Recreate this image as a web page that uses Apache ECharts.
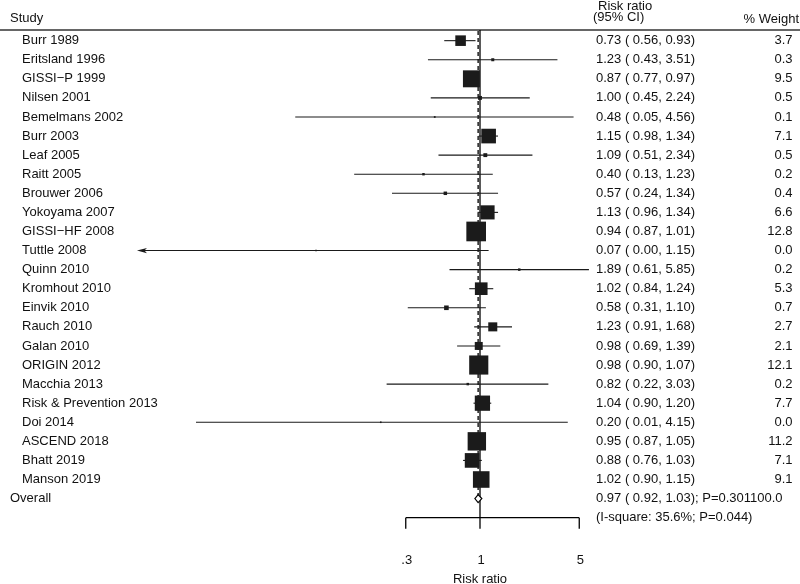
<!DOCTYPE html>
<html><head><meta charset="utf-8">
<script src="https://cdn.jsdelivr.net/npm/echarts@6/dist/echarts.min.js"></script>
<style>html,body{margin:0;padding:0;background:#fff}#c{width:800px;height:584px}</style>
</head><body><div id="c"></div>
<script>
// ---------------- data ----------------
const studies = ["Burr 1989","Eritsland 1996","GISSI\u2212P 1999","Nilsen 2001","Bemelmans 2002","Burr 2003","Leaf 2005","Raitt 2005","Brouwer 2006","Yokoyama 2007","GISSI\u2212HF 2008","Tuttle 2008","Quinn 2010","Kromhout 2010","Einvik 2010","Rauch 2010","Galan 2010","ORIGIN 2012","Macchia 2013","Risk & Prevention 2013","Doi 2014","ASCEND 2018","Bhatt 2019","Manson 2019"];
const rr     = [0.73,1.23,0.87,1.00,0.48,1.15,1.09,0.40,0.57,1.13,0.94,0.07,1.89,1.02,0.58,1.23,0.98,0.98,0.82,1.04,0.20,0.95,0.88,1.02];
const lower  = [0.56,0.43,0.77,0.45,0.05,0.98,0.51,0.13,0.24,0.96,0.87,0.00,0.61,0.84,0.31,0.91,0.69,0.90,0.22,0.90,0.01,0.87,0.76,0.90];
const upper  = [0.93,3.51,0.97,2.24,4.56,1.34,2.34,1.23,1.34,1.34,1.01,1.15,5.85,1.24,1.10,1.68,1.39,1.07,3.03,1.20,4.15,1.05,1.03,1.15];
const weights= [3.7,0.3,9.5,0.5,0.1,7.1,0.5,0.2,0.4,6.6,12.8,0.0,0.2,5.3,0.7,2.7,2.1,12.1,0.2,7.7,0.0,11.2,7.1,9.1];

const overallLabel = "Overall";
const overallRR = 0.97, overallLower = 0.92, overallUpper = 1.03;
const overallP = "0.301";
const overallWeight = 100.0;
const iSquare = 35.6, heterogeneityP = "0.044";

const tickValues = [0.3, 1, 5];
const tickLabels = [".3", "1", "5"];
const axisTitle = "Risk ratio";
const headerStudy = "Study", headerEffect1 = "Risk ratio", headerEffect2 = "(95% CI)", headerWeight = "% Weight";

// ---------------- layout ----------------
const W = 800;
const PX_PER_DECADE = 142, X_ONE = 480;
const ROW0 = 40.66, ROW_H = 19.08, Y_MIN = -2, Y_MAX = 28;
const X_CLIP = 0.00384;          // left display limit where CIs become arrows
const SQ_K = 5.5, SQ_MIN = 1.6;
const FONT = '13px "Liberation Sans", Arial, sans-serif';
const TXT = '#111', LINE = '#1a1a1a', SQ = '#1b1b1b';
const nStudies = studies.length;
const overallRow = nStudies;
const axisRow = nStudies + 1;

const f2 = v => v.toFixed(2);
const ciText = (e, l, u) => f2(e) + ' ( ' + f2(l) + ', ' + f2(u) + ')';

function txt(x, y, text, align) {
  return {type: 'text', silent: true, style: {x, y, text, fill: TXT, font: FONT, textAlign: align || 'left', textVerticalAlign: 'middle', verticalAlign: 'middle'}};
}

const chart = echarts.init(document.getElementById('c'), null, {renderer: 'canvas'});

const option = {
  animation: false,
  backgroundColor: '#fff',
  grid: {left: 0, width: W, top: ROW0 + Y_MIN * ROW_H, height: (Y_MAX - Y_MIN) * ROW_H, containLabel: false},
  xAxis: {type: 'log', logBase: 10, min: Math.pow(10, -X_ONE / PX_PER_DECADE), max: Math.pow(10, (W - X_ONE) / PX_PER_DECADE), show: false},
  yAxis: {type: 'value', inverse: true, min: Y_MIN, max: Y_MAX, show: false},
  graphic: [
    {type: 'line', shape: {x1: 0, y1: 30, x2: W, y2: 30}, style: {stroke: '#333', lineWidth: 1.3}, silent: true},
    txt(10, 18, headerStudy),
    txt(598, 6.2, headerEffect1),
    txt(593, 17, headerEffect2),
    txt(799, 19.5, headerWeight, 'right')
  ],
  series: [
    // reference line at no effect
    {type: 'line', data: [[1, -0.56], [1, axisRow]], symbol: 'none', silent: true,
     lineStyle: {color: '#000', width: 1.3}, z: 2},
    // overall effect dashed line
    {type: 'line', data: [[overallRR, -0.5], [overallRR, overallRow]], symbol: 'none', silent: true,
     lineStyle: {color: '#000', width: 1.3, type: [4, 3]}, z: 2},
    // study CIs and weight squares
    {type: 'custom', data: rr.map((v, i) => [v, i]), encode: {x: 0, y: 1}, clip: false, z: 3,
     renderItem: function (params, api) {
       const i = params.dataIndex;
       const c = api.coord([rr[i], i]);
       const y = c[1];
       const clipped = lower[i] < X_CLIP;
       const xl = api.coord([clipped ? X_CLIP : lower[i], i])[0];
       const xh = api.coord([upper[i], i])[0];
       const ch = [];
       ch.push({type: 'line', shape: {x1: clipped ? xl + 6 : xl, y1: y, x2: xh, y2: y}, style: {stroke: LINE, lineWidth: 1.1}});
       if (clipped) ch.push({type: 'polygon', shape: {points: [[xl, y], [xl + 10, y - 2.6], [xl + 7.5, y], [xl + 10, y + 2.6]]}, style: {fill: LINE}});
       const s = Math.max(SQ_K * Math.sqrt(weights[i]), SQ_MIN);
       ch.push({type: 'rect', shape: {x: c[0] - s / 2, y: y - s / 2, width: s, height: s}, style: {fill: SQ}});
       return {type: 'group', children: ch};
     }},
    // overall diamond
    {type: 'custom', data: [[overallRR, overallRow]], encode: {x: 0, y: 1}, clip: false, z: 4,
     renderItem: function (params, api) {
       const c = api.coord([overallRR, overallRow]);
       const l = api.coord([overallLower, overallRow]);
       const u = api.coord([overallUpper, overallRow]);
       return {type: 'polygon', shape: {points: [[l[0], c[1]], [c[0], c[1] - 4], [u[0], c[1]], [c[0], c[1] + 4]]},
               style: {fill: '#fff', stroke: '#000', lineWidth: 1.2}};
     }},
    // text columns
    {type: 'custom', data: rr.map((v, i) => [1, i]), encode: {x: 0, y: 1}, clip: false, z: 5,
     renderItem: function (params, api) {
       const i = params.dataIndex;
       const y = api.coord([1, i])[1];
       return {type: 'group', children: [
         txt(22, y, studies[i]),
         txt(596, y, ciText(rr[i], lower[i], upper[i])),
         txt(792.5, y, weights[i].toFixed(1), 'right')
       ]};
     }},
    // overall text
    {type: 'custom', data: [[1, overallRow]], encode: {x: 0, y: 1}, clip: false, z: 5,
     renderItem: function (params, api) {
       const y = api.coord([1, overallRow])[1];
       return {type: 'group', children: [
         txt(10, y, overallLabel),
         txt(596, y, ciText(overallRR, overallLower, overallUpper) + '; P=' + overallP + overallWeight.toFixed(1)),
         txt(596, y + 18.5, '(I-square: ' + iSquare.toFixed(1) + '%; P=' + heterogeneityP + ')')
       ]};
     }},
    // bottom axis line
    {type: 'line', data: [[tickValues[0], axisRow], [tickValues[tickValues.length - 1], axisRow]], symbol: 'none', silent: true,
     lineStyle: {color: '#000', width: 1.3}, z: 2},
    // ticks and tick labels
    {type: 'custom', data: tickValues.map(v => [v, axisRow]), encode: {x: 0, y: 1}, clip: false, z: 5,
     renderItem: function (params, api) {
       const i = params.dataIndex;
       const c = api.coord([tickValues[i], axisRow]);
       const ch = [
         {type: 'line', shape: {x1: c[0], y1: c[1], x2: c[0], y2: c[1] + 11}, style: {stroke: '#000', lineWidth: 1.3}},
         txt(c[0] + 1, c[1] + 42.5, tickLabels[i], 'center')
       ];
       if (tickValues[i] === 1) ch.push(txt(c[0], c[1] + 61.5, axisTitle, 'center'));
       return {type: 'group', children: ch};
     }}
  ]
};
chart.setOption(option);
</script>
</body></html>
